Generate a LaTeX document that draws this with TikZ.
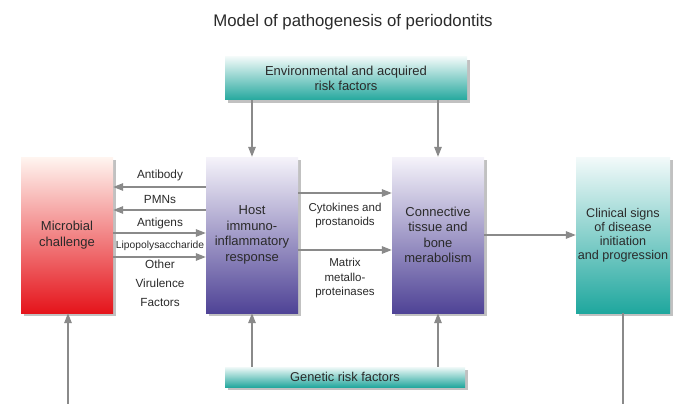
\documentclass[tikz,border=0pt]{standalone}
\usepackage{fontspec}
\setmainfont{Liberation Sans}
\usetikzlibrary{arrows.meta,shadows}
\definecolor{txt}{HTML}{2A2A2A}
\definecolor{arrc}{HTML}{8A8A8A}
\definecolor{rtop}{HTML}{FFF5F0}
\definecolor{rmid}{HTML}{F3875F}
\definecolor{rbot}{HTML}{E5141B}
\definecolor{ptop}{HTML}{F5F3FA}
\definecolor{pmid}{HTML}{ABA4D3}
\definecolor{pbot}{HTML}{4F4396}
\definecolor{ttop}{HTML}{F3FAFA}
\definecolor{tmid}{HTML}{8FD3CE}
\definecolor{tbot}{HTML}{1FA79E}
\definecolor{wtop}{HTML}{F0F9F8}
\definecolor{wbot}{HTML}{25A89E}
\tikzset{
  box/.style={draw=none, align=center, text=txt, inner sep=1pt,
    drop shadow={shadow xshift=2.5pt, shadow yshift=-3pt, opacity=0.35, fill=black!70}},
  tall/.style={box, minimum width=92pt, minimum height=156pt,
    font=\fontsize{13}{15.5}\selectfont},
  redbox/.style={tall, top color=rtop, middle color=rmid, bottom color=rbot},
  purplebox/.style={tall, top color=ptop, middle color=pmid, bottom color=pbot},
  tealbox/.style={tall, top color=ttop, middle color=tmid, bottom color=tbot},
  widebox/.style={box, top color=wtop, bottom color=wbot,
    font=\fontsize{13}{14.5}\selectfont},
  lbl/.style={text=txt, align=center, inner sep=0pt, font=\fontsize{11.8}{14.5}\selectfont},
  arr/.style={draw=arrc, line width=1.4pt, -{Triangle[length=10pt,width=7.5pt]}},
  ln/.style={draw=arrc, line width=1.4pt}
}
\begin{document}
\begin{tikzpicture}[x=1pt,y=-1pt]
\useasboundingbox (0,0) rectangle (678,404);
\node[text=txt, font=\fontsize{16.8}{19}\selectfont] (title) at (353,22) {Model of pathogenesis of periodontits};
\node[widebox, minimum width=242pt, minimum height=43pt] (env) at (346,78.5) {Environmental and acquired\\risk factors};
\node[widebox, minimum width=240pt, minimum height=20pt, font=\fontsize{12.8}{14}\selectfont] (gen) at (345,377) {Genetic risk factors};
\node[redbox] (mic) at (67,235) {Microbial\\challenge};
\node[purplebox] (host) at (252,235) {Host\\immuno-\\inflammatory\\response};
\node[purplebox] (conn) at (438,235) {Connective\\tissue and\\bone\\merabolism};
\node[tealbox, minimum width=94pt, font=\fontsize{12.6}{14}\selectfont] (clin) at (623,235) {Clinical signs\\of disease\\initiation\\and progression};
% labels between microbial and host
\node[lbl] (lab1) at (160,175) {Antibody};
\node[lbl] (lab2) at (160,199) {PMNs};
\node[lbl] (lab3) at (160,223) {Antigens};
\node[lbl, font=\fontsize{10.3}{12}\selectfont] (lab4) at (160,246) {Lipopolysaccharide};
\node[lbl, font=\fontsize{11.8}{19}\selectfont, anchor=north] (lab5) at (160,260) {Other\\Virulence\\Factors};
% labels between host and connective
\node[lbl, font=\fontsize{11.5}{14}\selectfont] (lab6) at (345,216) {Cytokines and\\prostanoids};
\node[lbl, font=\fontsize{11.5}{14.5}\selectfont] (lab7) at (345,278.5) {Matrix\\metallo-\\proteinases};
% arrows
\draw[arr] (env.south -| host.north) -- (host.north);
\draw[arr] (env.south -| conn.north) -- (conn.north);
\draw[arr] (gen.north -| host.south) -- (host.south);
\draw[arr] (gen.north -| conn.south) -- (conn.south);
\draw[arr] ([yshift=48pt]host.west) -- ([yshift=48pt]mic.east);
\draw[arr] ([yshift=25pt]host.west) -- ([yshift=25pt]mic.east);
\draw[arr] ([yshift=2pt]mic.east) -- ([yshift=2pt]host.west);
\draw[arr] ([yshift=-22pt]mic.east) -- ([yshift=-22pt]host.west);
\draw[arr] ([yshift=42pt]host.east) -- ([yshift=42pt]conn.west);
\draw[arr] ([yshift=-15pt]host.east) -- ([yshift=-15pt]conn.west);
\draw[arr] (conn.east) -- (clin.west);
\coordinate (mbot) at (68,404);
\coordinate (cbot) at (623,404);
\draw[arr] (mbot) -- (mic.south -| mbot);
\draw[ln] (clin.south) -- (cbot);
\end{tikzpicture}
\end{document}
